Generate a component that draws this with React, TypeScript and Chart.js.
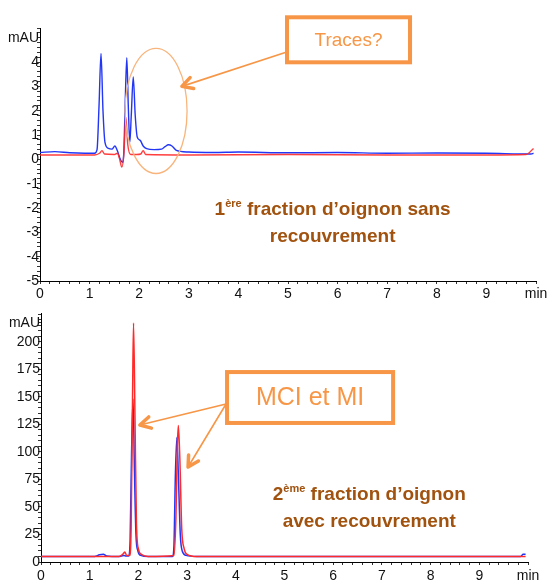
import React, { useEffect, useRef } from "react";
import { Chart, registerables } from "chart.js";

Chart.register(...registerables);

const FONT = "'Liberation Sans', Arial, Helvetica, sans-serif";
const ORANGE = "#F79646";
const ORANGE_LIGHT = "#F9B47C";
const BROWN = "#A0520E";
const BLUE = "#2236F5";
const RED = "#FF2A2A";

// ---- 1st fraction (top chromatogram), time in min, absorbance in mAU ----
const topBlueTime = [0, 0.3, 0.6, 0.9, 1.1, 1.15, 1.19, 1.23, 1.27, 1.31, 1.38, 1.45, 1.51, 1.56, 1.62, 1.66, 1.69, 1.72, 1.75, 1.78, 1.81, 1.84, 1.88, 1.92, 1.96, 2.02, 2.08, 2.15, 2.3, 2.45, 2.52, 2.59, 2.66, 2.75, 3.0, 3.5, 4.0, 5.0, 6.0, 7.0, 8.0, 9.0, 9.9, 9.95];
const topBlueAbs = [0.28, 0.32, 0.27, 0.25, 0.25, 0.4, 2.2, 4.35, 2.0, 0.7, 0.45, 0.42, 0.55, 0.35, 0.0, -0.12, 0.3, 2.5, 4.18, 2.2, 0.7, 1.8, 3.39, 1.8, 0.92, 0.78, 0.55, 0.44, 0.4, 0.42, 0.52, 0.6, 0.55, 0.37, 0.3, 0.28, 0.3, 0.27, 0.28, 0.25, 0.26, 0.25, 0.22, 0.25];
const topRedTime = [0, 1.1, 1.2, 1.25, 1.3, 1.5, 1.56, 1.6, 1.65, 1.69, 1.73, 1.77, 1.83, 1.95, 2.03, 2.08, 2.13, 3.0, 5.0, 7.0, 9.0, 9.8, 9.95];
const topRedAbs = [0.18, 0.18, 0.25, 0.36, 0.22, 0.2, 0.25, 0.05, -0.32, 0.2, 1.74, 0.6, 0.2, 0.2, 0.22, 0.36, 0.2, 0.18, 0.2, 0.18, 0.18, 0.2, 0.45];

// ---- 2nd fraction (bottom chromatogram) ----
const botBlueTime = [0, 1.1, 1.2, 1.28, 1.35, 1.6, 1.7, 1.75, 1.8, 1.83, 1.86, 1.89, 1.92, 1.95, 1.99, 2.05, 2.2, 2.7, 2.73, 2.76, 2.79, 2.82, 2.86, 2.9, 2.98, 3.2, 9.85, 9.9, 9.95];
const botBlueAbs = [5, 5, 6.5, 7, 5.5, 5, 6, 5.5, 5.5, 20, 100, 148, 80, 25, 10, 6, 5, 5, 15, 80, 113, 80, 25, 10, 6, 5, 5, 7, 7];
const botRedTime = [0, 1.6, 1.68, 1.72, 1.76, 1.82, 1.85, 1.88, 1.9, 1.93, 1.96, 2.0, 2.06, 2.2, 2.73, 2.77, 2.8, 2.82, 2.85, 2.89, 2.94, 3.0, 3.2, 9.95];
const botRedAbs = [5, 5, 7, 9, 6, 6, 30, 150, 217, 130, 35, 12, 7, 5, 6, 40, 105, 124, 95, 30, 12, 7, 5, 5];

// ---- tick labels ----
const xTickLabels = ["0", "1", "2", "3", "4", "5", "6", "7", "8", "9", "min"];
const topYTickValues = [-5, -4, -3, -2, -1, 0, 1, 2, 3, 4];
const topYUnitAt = 5;
const botYTickValues = [0, 25, 50, 75, 100, 125, 150, 175, 200];
const botYUnitAt = 217;
const yUnitLabel = "mAU";

type Area = { left: number; right: number; top: number; bottom: number };

function steps(min: number, max: number, step: number) {
  const out: number[] = [];
  const n = Math.round((max - min) / step);
  for (let i = 0; i <= n; i++) out.push(Math.round((min + i * step) * 1000) / 1000);
  return out;
}

function pts(t: number[], v: number[]) {
  return t.map((x, i) => ({ x, y: v[i] }));
}

function arrow(ctx: CanvasRenderingContext2D, x1: number, y1: number, x2: number, y2: number, color: string) {
  ctx.save();
  ctx.strokeStyle = color;
  ctx.lineCap = "round";
  ctx.lineJoin = "round";
  ctx.lineWidth = 1.6;
  ctx.beginPath();
  ctx.moveTo(x1, y1);
  ctx.lineTo(x2, y2);
  ctx.stroke();
  const a = Math.atan2(y1 - y2, x1 - x2);
  const L = 12;
  ctx.lineWidth = 3.5;
  ctx.beginPath();
  ctx.moveTo(x2 + L * Math.cos(a + 0.5), y2 + L * Math.sin(a + 0.5));
  ctx.lineTo(x2, y2);
  ctx.lineTo(x2 + L * Math.cos(a - 0.5), y2 + L * Math.sin(a - 0.5));
  ctx.stroke();
  ctx.restore();
}

function titleLine(ctx: CanvasRenderingContext2D, cx: number, base: number, pre: string, sup: string, post: string, size: number) {
  ctx.save();
  ctx.fillStyle = BROWN;
  ctx.textBaseline = "alphabetic";
  ctx.textAlign = "left";
  const big = `bold ${size}px ${FONT}`;
  const small = `bold ${Math.round(size * 0.6)}px ${FONT}`;
  ctx.font = big;
  const w1 = ctx.measureText(pre).width;
  const w3 = ctx.measureText(post).width;
  ctx.font = small;
  const w2 = sup ? ctx.measureText(sup).width : 0;
  const x0 = cx - (w1 + w2 + w3) / 2;
  ctx.font = big;
  ctx.fillText(pre, x0, base);
  if (sup) {
    ctx.font = small;
    ctx.fillText(sup, x0 + w1, base - size * 0.4);
  }
  ctx.font = big;
  ctx.fillText(post, x0 + w1 + w2, base);
  ctx.restore();
}

function boxText(ctx: CanvasRenderingContext2D, x1: number, y1: number, x2: number, y2: number, text: string, size: number) {
  ctx.save();
  ctx.fillStyle = "#ffffff";
  ctx.fillRect(x1, y1, x2 - x1, y2 - y1);
  ctx.strokeStyle = ORANGE;
  ctx.lineWidth = 4;
  ctx.strokeRect(x1, y1, x2 - x1, y2 - y1);
  ctx.fillStyle = ORANGE;
  ctx.font = `${size}px ${FONT}`;
  ctx.textAlign = "center";
  ctx.textBaseline = "middle";
  ctx.fillText(text, (x1 + x2) / 2, (y1 + y2) / 2 + 1);
  ctx.restore();
}

function makeConfig(opts: {
  width: number;
  height: number;
  area: Area;
  yMin: number;
  yMax: number;
  yMinor: number;
  yLabels: number[];
  yUnitAt: number;
  xPad: number;
  datasets: any[];
  annotate: (chart: any) => void;
}) {
  const { width, height, area, yMin, yMax, yMinor, yLabels, yUnitAt, xPad, datasets, annotate } = opts;
  const yTicks = steps(yMin, Math.floor(yMax / yMinor) * yMinor, yMinor);
  if (!yTicks.includes(yUnitAt)) yTicks.push(yUnitAt);
  yTicks.sort((a, b) => a - b);
  const xTicks = steps(0, 10, 0.2);
  return {
    type: "line",
    data: { datasets },
    options: {
      animation: false,
      responsive: false,
      devicePixelRatio: 1,
      layout: { padding: { left: 0, top: area.top, right: width - area.right, bottom: 0 } },
      plugins: { legend: { display: false }, tooltip: { enabled: false } },
      elements: { point: { radius: 0 }, line: { borderWidth: 1.5, cubicInterpolationMode: "monotone" } },
      scales: {
        x: {
          type: "linear",
          min: 0,
          max: 10,
          afterBuildTicks: (s: any) => {
            s.ticks = xTicks.map((value) => ({ value }));
          },
          afterFit: (s: any) => {
            s.height = height - area.bottom;
            s.paddingLeft = 0;
            s.paddingRight = 0;
          },
          ticks: {
            autoSkip: false,
            maxRotation: 0,
            minRotation: 0,
            padding: xPad,
            color: "#111",
            font: { family: FONT, size: 14 },
            callback: (val: any) => {
              const v = Number(val);
              if (Math.abs(v - Math.round(v)) < 1e-6) return xTickLabels[Math.round(v)] ?? "";
              return "";
            },
          },
          grid: { drawOnChartArea: false, drawTicks: true, tickLength: 3, tickColor: "#333", color: "#000" },
          border: { display: true, color: "#000", width: 1 },
        },
        y: {
          type: "linear",
          min: yMin,
          max: yMax,
          afterBuildTicks: (s: any) => {
            s.ticks = yTicks.map((value) => ({ value }));
          },
          afterFit: (s: any) => {
            s.width = area.left;
            s.paddingTop = 0;
            s.paddingBottom = 0;
          },
          ticks: {
            autoSkip: false,
            padding: -2,
            color: "#111",
            font: { family: FONT, size: 14 },
            callback: (val: any) => {
              const v = Number(val);
              if (Math.abs(v - yUnitAt) < 1e-6) return yUnitLabel;
              if (yLabels.some((l) => Math.abs(l - v) < 1e-6)) return String(v);
              return "";
            },
          },
          grid: {
            drawOnChartArea: false,
            drawTicks: true,
            tickLength: 3,
            tickColor: (c: any) => (c.tick && Math.abs(c.tick.value - yUnitAt) < 1e-6 && yUnitAt % 1 !== 0 && yUnitAt % 5 !== 0 ? "rgba(0,0,0,0)" : "#333"),
            color: "#000",
          },
          border: { display: true, color: "#000", width: 1 },
        },
      },
    },
    plugins: [
      {
        id: "annot",
        afterDraw: (chart: any) => annotate(chart),
      },
    ],
  };
}

function ChartCanvas({ width, height, top, config }: { width: number; height: number; top: number; config: any }) {
  const ref = useRef<HTMLCanvasElement | null>(null);
  useEffect(() => {
    if (!ref.current) return;
    const chart = new Chart(ref.current, config);
    return () => chart.destroy();
  }, []);
  return (
    <canvas
      ref={ref}
      width={width}
      height={height}
      style={{ position: "absolute", left: 0, top, width, height, display: "block" }}
    />
  );
}

const W = 547;
const TOP_H = 302;
const BOT_H = 279;

const topConfig = makeConfig({
  width: W,
  height: TOP_H,
  area: { left: 40, right: 536, top: 28, bottom: 281 },
  yMin: -5,
  yMax: 5.4,
  yMinor: 0.2,
  yLabels: topYTickValues,
  yUnitAt: topYUnitAt,
  xPad: 2,
  datasets: [
    { data: pts(topRedTime, topRedAbs), borderColor: "rgba(255,40,40,0.9)", borderWidth: 1.4 },
    { data: pts(topBlueTime, topBlueAbs), borderColor: BLUE, borderWidth: 1.4 },
  ],
  annotate: (chart: any) => {
    const ctx = chart.ctx as CanvasRenderingContext2D;
    const X = (t: number) => chart.scales.x.getPixelForValue(t);
    const Y = (v: number) => chart.scales.y.getPixelForValue(v);
    ctx.save();
    ctx.strokeStyle = ORANGE_LIGHT;
    ctx.lineWidth = 1.3;
    ctx.beginPath();
    ctx.ellipse(X(2.34), Y(1.99), X(2.965) - X(2.34), Y(1.99) - Y(4.56), 0, 0, Math.PI * 2);
    ctx.stroke();
    ctx.restore();
    arrow(ctx, X(4.96), Y(4.4), X(2.86), Y(3.0), ORANGE);
    boxText(ctx, X(4.98), Y(5.84), X(7.46), Y(3.99), "Traces?", 19);
    titleLine(ctx, X(5.9), Y(-2.29), "1", "ère", " fraction d\u2019oignon sans", 19);
    titleLine(ctx, X(5.9), Y(-3.4), "", "", "recouvrement", 19);
  },
});

const botConfig = makeConfig({
  width: W,
  height: BOT_H,
  area: { left: 41, right: 528, top: 11, bottom: 260 },
  yMin: 0,
  yMax: 226,
  yMinor: 5,
  yLabels: botYTickValues,
  yUnitAt: botYUnitAt,
  xPad: 3,
  datasets: [
    { data: pts(botRedTime, botRedAbs), borderColor: RED, borderWidth: 1.5 },
    { data: pts(botBlueTime, botBlueAbs), borderColor: BLUE, borderWidth: 1.5 },
  ],
  annotate: (chart: any) => {
    const ctx = chart.ctx as CanvasRenderingContext2D;
    const X = (t: number) => chart.scales.x.getPixelForValue(t);
    const Y = (v: number) => chart.scales.y.getPixelForValue(v);
    arrow(ctx, X(3.8), Y(143.4), X(2.03), Y(124.3), ORANGE);
    arrow(ctx, X(3.8), Y(143.4), X(3.02), Y(86.2), ORANGE);
    boxText(ctx, X(3.82), Y(172.4), X(7.23), Y(126.2), "MCI et MI", 25);
    titleLine(ctx, X(6.74), Y(56.3), "2", "ème", " fraction d\u2019oignon", 19);
    titleLine(ctx, X(6.74), Y(31.8), "", "", "avec recouvrement", 19);
  },
});

export default function App() {
  return (
    <div style={{ position: "absolute", left: 0, top: 0, width: W, height: TOP_H + BOT_H, background: "#fff" }}>
      <ChartCanvas width={W} height={TOP_H} top={0} config={topConfig} />
      <ChartCanvas width={W} height={BOT_H} top={TOP_H} config={botConfig} />
    </div>
  );
}
